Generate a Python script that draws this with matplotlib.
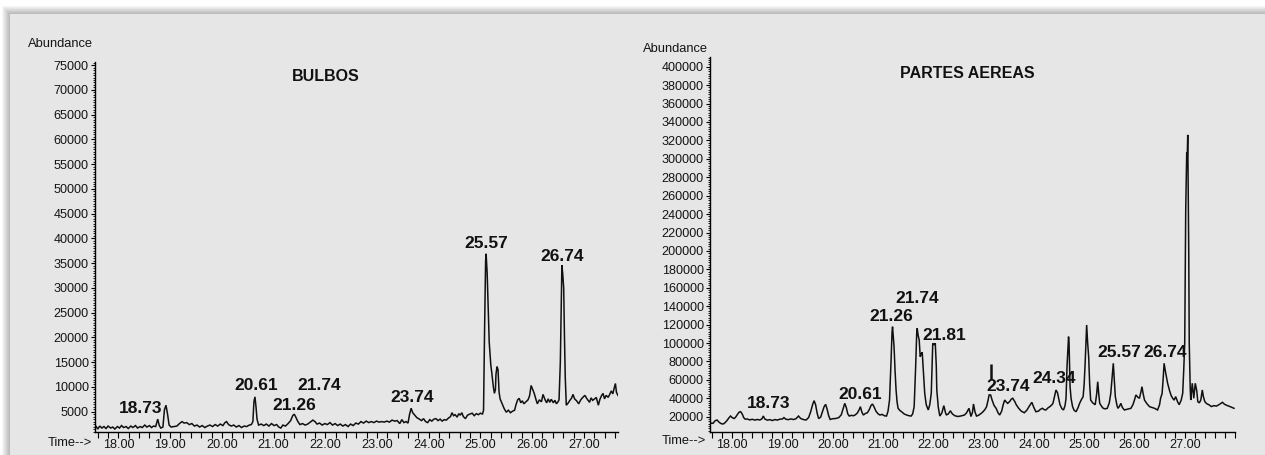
import matplotlib
matplotlib.use('Agg')
import matplotlib.pyplot as plt
from matplotlib.patches import Rectangle
from matplotlib.ticker import MultipleLocator, FormatStrFormatter

plt.rcParams['font.family'] = ['Liberation Sans', 'DejaVu Sans']

# ---------------- data: BULBOS (left) ----------------
left_time = [17.57, 17.60, 17.64, 17.68, 17.72, 17.76, 17.80, 17.85, 17.89, 17.93, 17.98, 18.02,
             18.06, 18.10, 18.15, 18.19, 18.24, 18.28, 18.33, 18.37, 18.42, 18.46, 18.51, 18.55,
             18.60, 18.64, 18.68, 18.72, 18.76, 18.79, 18.82, 18.86, 18.89, 18.92, 18.95, 18.98,
             19.02, 19.08, 19.13, 19.18, 19.23, 19.27, 19.32, 19.37, 19.42, 19.47, 19.52, 19.57,
             19.62, 19.67, 19.72, 19.77, 19.82, 19.87, 19.92, 19.97, 20.02, 20.06, 20.09, 20.13,
             20.18, 20.23, 20.28, 20.33, 20.38, 20.43, 20.48, 20.53, 20.57, 20.60, 20.62, 20.64,
             20.66, 20.68, 20.71, 20.76, 20.81, 20.86, 20.91, 20.96, 21.01, 21.06, 21.10, 21.14,
             21.18, 21.23, 21.28, 21.33, 21.37, 21.40, 21.43, 21.47, 21.51, 21.56, 21.61, 21.66,
             21.71, 21.76, 21.80, 21.84, 21.89, 21.94, 21.99, 22.04, 22.09, 22.14, 22.19, 22.24,
             22.29, 22.34, 22.39, 22.44, 22.49, 22.54, 22.59, 22.64, 22.69, 22.74, 22.79, 22.84,
             22.89, 22.94, 22.99, 23.04, 23.09, 23.14, 23.19, 23.24, 23.29, 23.34, 23.39, 23.44,
             23.48, 23.52, 23.56, 23.60, 23.63, 23.66, 23.69, 23.73, 23.77, 23.82, 23.86, 23.90,
             23.94, 23.98, 24.02, 24.06, 24.10, 24.14, 24.18, 24.22, 24.26, 24.30, 24.34, 24.38,
             24.42, 24.45, 24.48, 24.51, 24.55, 24.58, 24.61, 24.64, 24.67, 24.71, 24.75, 24.79,
             24.84, 24.88, 24.92, 24.96, 25.00, 25.04, 25.06, 25.08, 25.10, 25.11, 25.13, 25.15,
             25.17, 25.20, 25.22, 25.25, 25.27, 25.29, 25.30, 25.32, 25.34, 25.36, 25.38, 25.42,
             25.46, 25.50, 25.54, 25.58, 25.62, 25.66, 25.69, 25.72, 25.75, 25.78, 25.81, 25.84,
             25.88, 25.92, 25.95, 25.98, 26.01, 26.04, 26.07, 26.10, 26.14, 26.18, 26.21, 26.25,
             26.28, 26.31, 26.34, 26.37, 26.41, 26.44, 26.47, 26.50, 26.52, 26.545, 26.56, 26.575,
             26.59, 26.61, 26.625, 26.64, 26.66, 26.70, 26.73, 26.76, 26.79, 26.82, 26.86, 26.90,
             26.94, 26.98, 27.02, 27.06, 27.09, 27.11, 27.14, 27.17, 27.21, 27.24, 27.26, 27.28,
             27.31, 27.34, 27.37, 27.40, 27.43, 27.47, 27.50, 27.53, 27.56, 27.58, 27.61, 27.63,
             27.66]
left_abund = [2000, 1500, 2100, 1700, 2000, 1600, 2100, 1700, 1900, 1500, 2000, 1700,
              2200, 1800, 2000, 1600, 2100, 1800, 2200, 1700, 2000, 1800, 2300, 1900,
              2200, 1800, 2100, 2000, 3500, 2200, 1700, 1900, 5400, 6300, 4500, 2300,
              1900, 2000, 2100, 2600, 3000, 2700, 2800, 2400, 2600, 2100, 2300, 1900,
              2200, 1800, 2100, 2300, 2000, 2400, 2100, 2500, 2200, 2800, 3000, 2400,
              2100, 2300, 1900, 2200, 1800, 2100, 2000, 2300, 2400, 3000, 7000, 8000,
              6000, 3500, 2300, 2500, 2200, 2500, 2100, 2600, 2200, 2400, 1900, 1700,
              2300, 2100, 2600, 3200, 4200, 4500, 3900, 3000, 2400, 2600, 2300, 2500,
              2900, 3300, 3000, 2500, 2700, 2300, 2600, 2400, 2800, 2300, 2600, 2200,
              2500, 2100, 2400, 2000, 2500, 2200, 2700, 2500, 3000, 2700, 3100, 2800,
              3000, 2800, 3100, 2900, 3000, 2900, 3100, 2900, 3300, 3100, 3200, 2600,
              3400, 2800, 3000, 2700, 4500, 5700, 4800, 4300, 3800, 3500, 3200, 3600,
              3000, 2800, 3400, 3100, 3500, 3600, 3200, 3500, 3100, 3400, 3300, 3700,
              4000, 4800, 4200, 4400, 3900, 4600, 4300, 4800, 4000, 3600, 4300, 4500,
              4700, 4200, 4600, 4400, 4700, 4500, 5300, 21500, 35500, 36900, 33000, 26000,
              19000, 14500, 12800, 10000, 8700, 9500, 12500, 14100, 13500, 9000, 7600, 6600,
              5600, 4900, 5300, 4800, 5100, 5300, 6500, 7400, 7700, 6800, 7200, 6600,
              7000, 7400, 8200, 10300, 9500, 8700, 7600, 6600, 7400, 7000, 8500, 7400,
              6800, 7600, 6900, 7500, 6800, 7300, 6600, 7000, 7400, 15000, 25000, 34600,
              33000, 30000, 20000, 12000, 6300, 6800, 7300, 7700, 8500, 7600, 7200, 6600,
              7400, 7900, 8300, 7600, 7200, 6900, 7800, 7300, 7600, 7900, 7100, 6300,
              7500, 8200, 8700, 7600, 8300, 7900, 8500, 9200, 8600, 9500, 10700, 8900,
              8300]
left_yticks = [5000, 10000, 15000, 20000, 25000, 30000, 35000, 40000, 45000, 50000,
               55000, 60000, 65000, 70000, 75000]
left_labels = ['18.73', '20.61', '21.26', '21.74', '23.74', '25.57', '26.74']
left_label_t = [18.42, 20.67, 21.40, 21.88, 23.67, 25.12, 26.57]
left_label_y = [5550, 10200, 6250, 10200, 7800, 39000, 36300]
left_title = 'BULBOS'

# ---------------- data: PARTES AEREAS (right) ----------------
right_time = [17.58, 17.62, 17.66, 17.70, 17.74, 17.78, 17.82, 17.86, 17.90, 17.94, 17.97, 18.00,
              18.04, 18.07, 18.10, 18.14, 18.17, 18.20, 18.23, 18.26, 18.30, 18.35, 18.40, 18.45,
              18.50, 18.55, 18.59, 18.62, 18.65, 18.70, 18.75, 18.80, 18.85, 18.90, 18.95, 19.00,
              19.03, 19.07, 19.12, 19.17, 19.22, 19.27, 19.32, 19.36, 19.41, 19.47, 19.52, 19.56,
              19.60, 19.63, 19.66, 19.69, 19.72, 19.76, 19.80, 19.83, 19.86, 19.89, 19.92, 19.95,
              20.00, 20.06, 20.12, 20.17, 20.21, 20.24, 20.27, 20.30, 20.33, 20.37, 20.41, 20.45,
              20.49, 20.53, 20.55, 20.58, 20.61, 20.65, 20.69, 20.73, 20.76, 20.79, 20.82, 20.86,
              20.90, 20.94, 20.98, 21.03, 21.07, 21.10, 21.13, 21.16, 21.18, 21.19, 21.21, 21.22,
              21.24, 21.26, 21.28, 21.30, 21.34, 21.37, 21.42, 21.47, 21.52, 21.56, 21.59, 21.62,
              21.65, 21.67, 21.68, 21.70, 21.72, 21.74, 21.76, 21.78, 21.80, 21.83, 21.86, 21.90,
              21.93, 21.96, 21.98, 21.99, 22.02, 22.04, 22.06, 22.07, 22.10, 22.13, 22.17, 22.21,
              22.24, 22.26, 22.30, 22.34, 22.38, 22.43, 22.49, 22.55, 22.62, 22.66, 22.71, 22.75,
              22.78, 22.80, 22.83, 22.86, 22.90, 22.95, 22.99, 23.03, 23.06, 23.09, 23.11, 23.14,
              23.17, 23.21, 23.25, 23.29, 23.32, 23.36, 23.39, 23.42, 23.45, 23.48, 23.52, 23.55,
              23.58, 23.62, 23.65, 23.70, 23.75, 23.81, 23.86, 23.91, 23.96, 24.00, 24.04, 24.09,
              24.13, 24.17, 24.21, 24.24, 24.28, 24.32, 24.36, 24.38, 24.41, 24.44, 24.47, 24.50,
              24.52, 24.56, 24.59, 24.62, 24.64, 24.66, 24.67, 24.69, 24.70, 24.72, 24.74, 24.77,
              24.80, 24.84, 24.88, 24.91, 24.94, 24.98, 25.00, 25.02, 25.04, 25.05, 25.07, 25.09,
              25.11, 25.13, 25.17, 25.22, 25.25, 25.27, 25.29, 25.31, 25.35, 25.38, 25.42, 25.46,
              25.50, 25.53, 25.56, 25.58, 25.60, 25.62, 25.65, 25.67, 25.70, 25.73, 25.76, 25.80,
              25.85, 25.89, 25.93, 25.97, 26.00, 26.03, 26.07, 26.10, 26.13, 26.15, 26.17, 26.20,
              26.25, 26.30, 26.35, 26.40, 26.46, 26.50, 26.52, 26.55, 26.57, 26.59, 26.62, 26.66,
              26.70, 26.73, 26.76, 26.79, 26.82, 26.86, 26.89, 26.93, 26.96, 26.98, 27.00, 27.02,
              27.04, 27.05, 27.06, 27.08, 27.09, 27.11, 27.12, 27.15, 27.18, 27.21, 27.24, 27.26,
              27.29, 27.32, 27.35, 27.37, 27.40, 27.44, 27.48, 27.53, 27.58, 27.63, 27.68, 27.72,
              27.75, 27.79, 27.85, 27.90, 27.95, 27.98]
right_abund = [13000, 12800, 15500, 16400, 14000, 12500, 12000, 13500, 16000, 19000, 20700, 19000,
               18000, 19500, 22000, 25000, 25400, 23000, 19000, 17300, 17500, 16500, 17200, 16300,
               17000, 16400, 17500, 20700, 17500, 16200, 16800, 15800, 16900, 16300, 17300, 17500,
               19000, 17200, 16800, 17600, 16900, 17800, 20700, 18200, 17000, 16400, 19000, 25000,
               33000, 37400, 33000, 24000, 18000, 19500, 26000, 31000, 33400, 28000, 21000, 17000,
               17800, 18000, 19000, 22000, 29000, 34500, 30000, 23000, 20700, 21500, 21000, 22000,
               24000, 28000, 30900, 25000, 21800, 23500, 24300, 28000, 32000, 33800, 31000, 26000,
               23200, 21800, 22500, 21000, 20700, 26000, 38100, 80000, 112000, 117700, 104000, 96000,
               70000, 49000, 36000, 29100, 26500, 25400, 23000, 21800, 21000, 20700, 23000, 30900,
               75000, 110000, 116000, 108000, 103300, 85200, 88000, 90000, 72000, 45400, 33000, 27300,
               33000, 45400, 80000, 99700, 98000, 99700, 75000, 49000, 30000, 20700, 24000, 32000,
               25000, 21800, 23000, 26400, 23000, 21000, 20200, 20800, 21800, 24000, 29100, 20200,
               25000, 33800, 25000, 20700, 21500, 23500, 25400, 28000, 30900, 38000, 43600, 43600,
               38000, 32000, 29100, 24000, 21800, 26000, 33000, 38100, 36000, 34500, 36500, 39000,
               40000, 36500, 33000, 29000, 26000, 24300, 27000, 31500, 35600, 30000, 25400, 26000,
               28000, 29100, 27500, 27300, 29500, 31000, 33000, 34500, 42000, 49000, 46000, 38000,
               33000, 28500, 27300, 32000, 40000, 75000, 85000, 106900, 100000, 52600, 40000, 30900,
               27000, 25400, 30000, 34500, 38000, 41800, 55000, 78000, 105000, 119600, 100000, 85200,
               55000, 38100, 35000, 33000, 45000, 58000, 45000, 34500, 31000, 29100, 28500, 29100,
               35000, 45400, 65000, 78000, 60000, 41800, 33000, 29100, 31000, 34500, 30000, 27300,
               28000, 28500, 29100, 33000, 38000, 43600, 41000, 40000, 47000, 52600, 46000, 38100,
               34000, 30900, 30000, 29100, 27300, 33000, 40000, 45000, 60000, 78000, 68000, 56300,
               48000, 43000, 40000, 38000, 41800, 36000, 33000, 38000, 45400, 70000, 99700, 245000,
               307000, 300000, 326000, 200000, 100000, 50000, 38100, 56300, 40000, 56300, 48000, 36300,
               35000, 38100, 49000, 42000, 36300, 34000, 33000, 31000, 32000, 31500, 33000, 34500,
               35600, 33500, 32000, 31000, 29800, 29100]
right_yticks = [20000, 40000, 60000, 80000, 100000, 120000, 140000, 160000, 180000, 200000,
                220000, 240000, 260000, 280000, 300000, 320000, 340000, 360000, 380000, 400000]
right_labels = ['18.73', '20.61', '21.26', '21.74', '21.81', '23.74', '24.34', '25.57', '26.74']
right_label_t = [18.73, 20.54, 21.16, 21.69, 22.22, 23.48, 24.40, 25.69, 26.61]
right_label_y = [33800, 44600, 128600, 148600, 108700, 52600, 61700, 89700, 89700]
right_mark_t = [23.15]
right_mark_lo = [59700]
right_mark_hi = [77700]
right_title = 'PARTES AEREAS'

x_ticks = [18, 19, 20, 21, 22, 23, 24, 25, 26, 27]

# ---------------- figure ----------------
W, H = 1265, 455
fig = plt.figure(figsize=(W / 100, H / 100), dpi=100, facecolor='white')


def prect(x0, y0, x1, y1, **kw):
    return Rectangle((x0 / W, 1 - y1 / H), (x1 - x0) / W, (y1 - y0) / H,
                     transform=fig.transFigure, **kw)


# drop shadow around the grey panel
for i in range(1, 9):
    fig.add_artist(prect(10 - i, 14 - i, W + 20, H + 20, facecolor='black',
                         edgecolor='none', alpha=0.035, zorder=-30 + i))
fig.add_artist(prect(10, 14, W + 20, H + 20, facecolor='#e6e6e6',
                     edgecolor='none', zorder=-10))

tick_font = 9.1
ax1 = fig.add_axes([95 / W, 1 - 431.7 / H, 523 / W, 370 / H])
ax2 = fig.add_axes([710 / W, 1 - 431.7 / H, 525 / W, 375 / H])

panels = [
    (ax1, left_time, left_abund, left_yticks, 500, (960, 75700), (17.547, 27.66),
     left_labels, left_label_t, left_label_y, left_title, 22.0, 72700),
    (ax2, right_time, right_abund, right_yticks, 2500, (3700, 410900), (17.56, 28.0),
     right_labels, right_label_t, right_label_y, right_title, 22.67, 393000),
]

for (ax, t, a, yt, ymin_step, ylim, xlim, labs, lt, ly, title, tt, ty) in panels:
    ax.set_facecolor('none')
    ax.plot(t, a, color='#101010', lw=1.1, solid_joinstyle='miter')
    ax.set_xlim(*xlim)
    ax.set_ylim(*ylim)
    for s in ('top', 'right'):
        ax.spines[s].set_visible(False)
    for s in ('left', 'bottom'):
        ax.spines[s].set_linewidth(1.0)
        ax.spines[s].set_color('black')
    ax.set_yticks(yt)
    ax.yaxis.set_minor_locator(MultipleLocator(ymin_step))
    ax.set_xticks(x_ticks)
    ax.xaxis.set_minor_locator(MultipleLocator(0.2))
    ax.xaxis.set_major_formatter(FormatStrFormatter('%.2f'))
    ax.yaxis.set_major_formatter(FormatStrFormatter('%d'))
    ax.tick_params(axis='y', which='major', direction='out', length=3, width=0.8,
                   pad=1.5, labelsize=tick_font, colors='black', labelcolor='#141414')
    ax.tick_params(axis='y', which='minor', direction='out', length=1.5, width=0.6)
    ax.tick_params(axis='x', which='both', direction='out', length=4, width=0.8,
                   pad=1.5, labelsize=tick_font, labelcolor='#141414')
    for lab, x, y in zip(labs, lt, ly):
        ax.text(x, y, lab, ha='center', va='center', fontsize=12.5, fontweight='bold',
                color='#111111')
    ax.text(tt, ty, title, ha='center', va='center', fontsize=11.5, fontweight='bold',
            color='#111111')

ax2.vlines(right_mark_t, right_mark_lo, right_mark_hi, color='#111111', lw=1.8)

# axis captions
fig.text(28 / W, 1 - 44 / H, 'Abundance', ha='left', va='center', fontsize=9.3, color='#141414')
fig.text(643 / W, 1 - 48.5 / H, 'Abundance', ha='left', va='center', fontsize=9.3, color='#141414')
fig.text(70 / W, 1 - 443 / H, 'Time-->', ha='center', va='center', fontsize=9.3, color='#141414')
fig.text(684 / W, 1 - 441 / H, 'Time-->', ha='center', va='center', fontsize=9.3, color='#141414')

fig.savefig('out.png', dpi=100, facecolor='white')
